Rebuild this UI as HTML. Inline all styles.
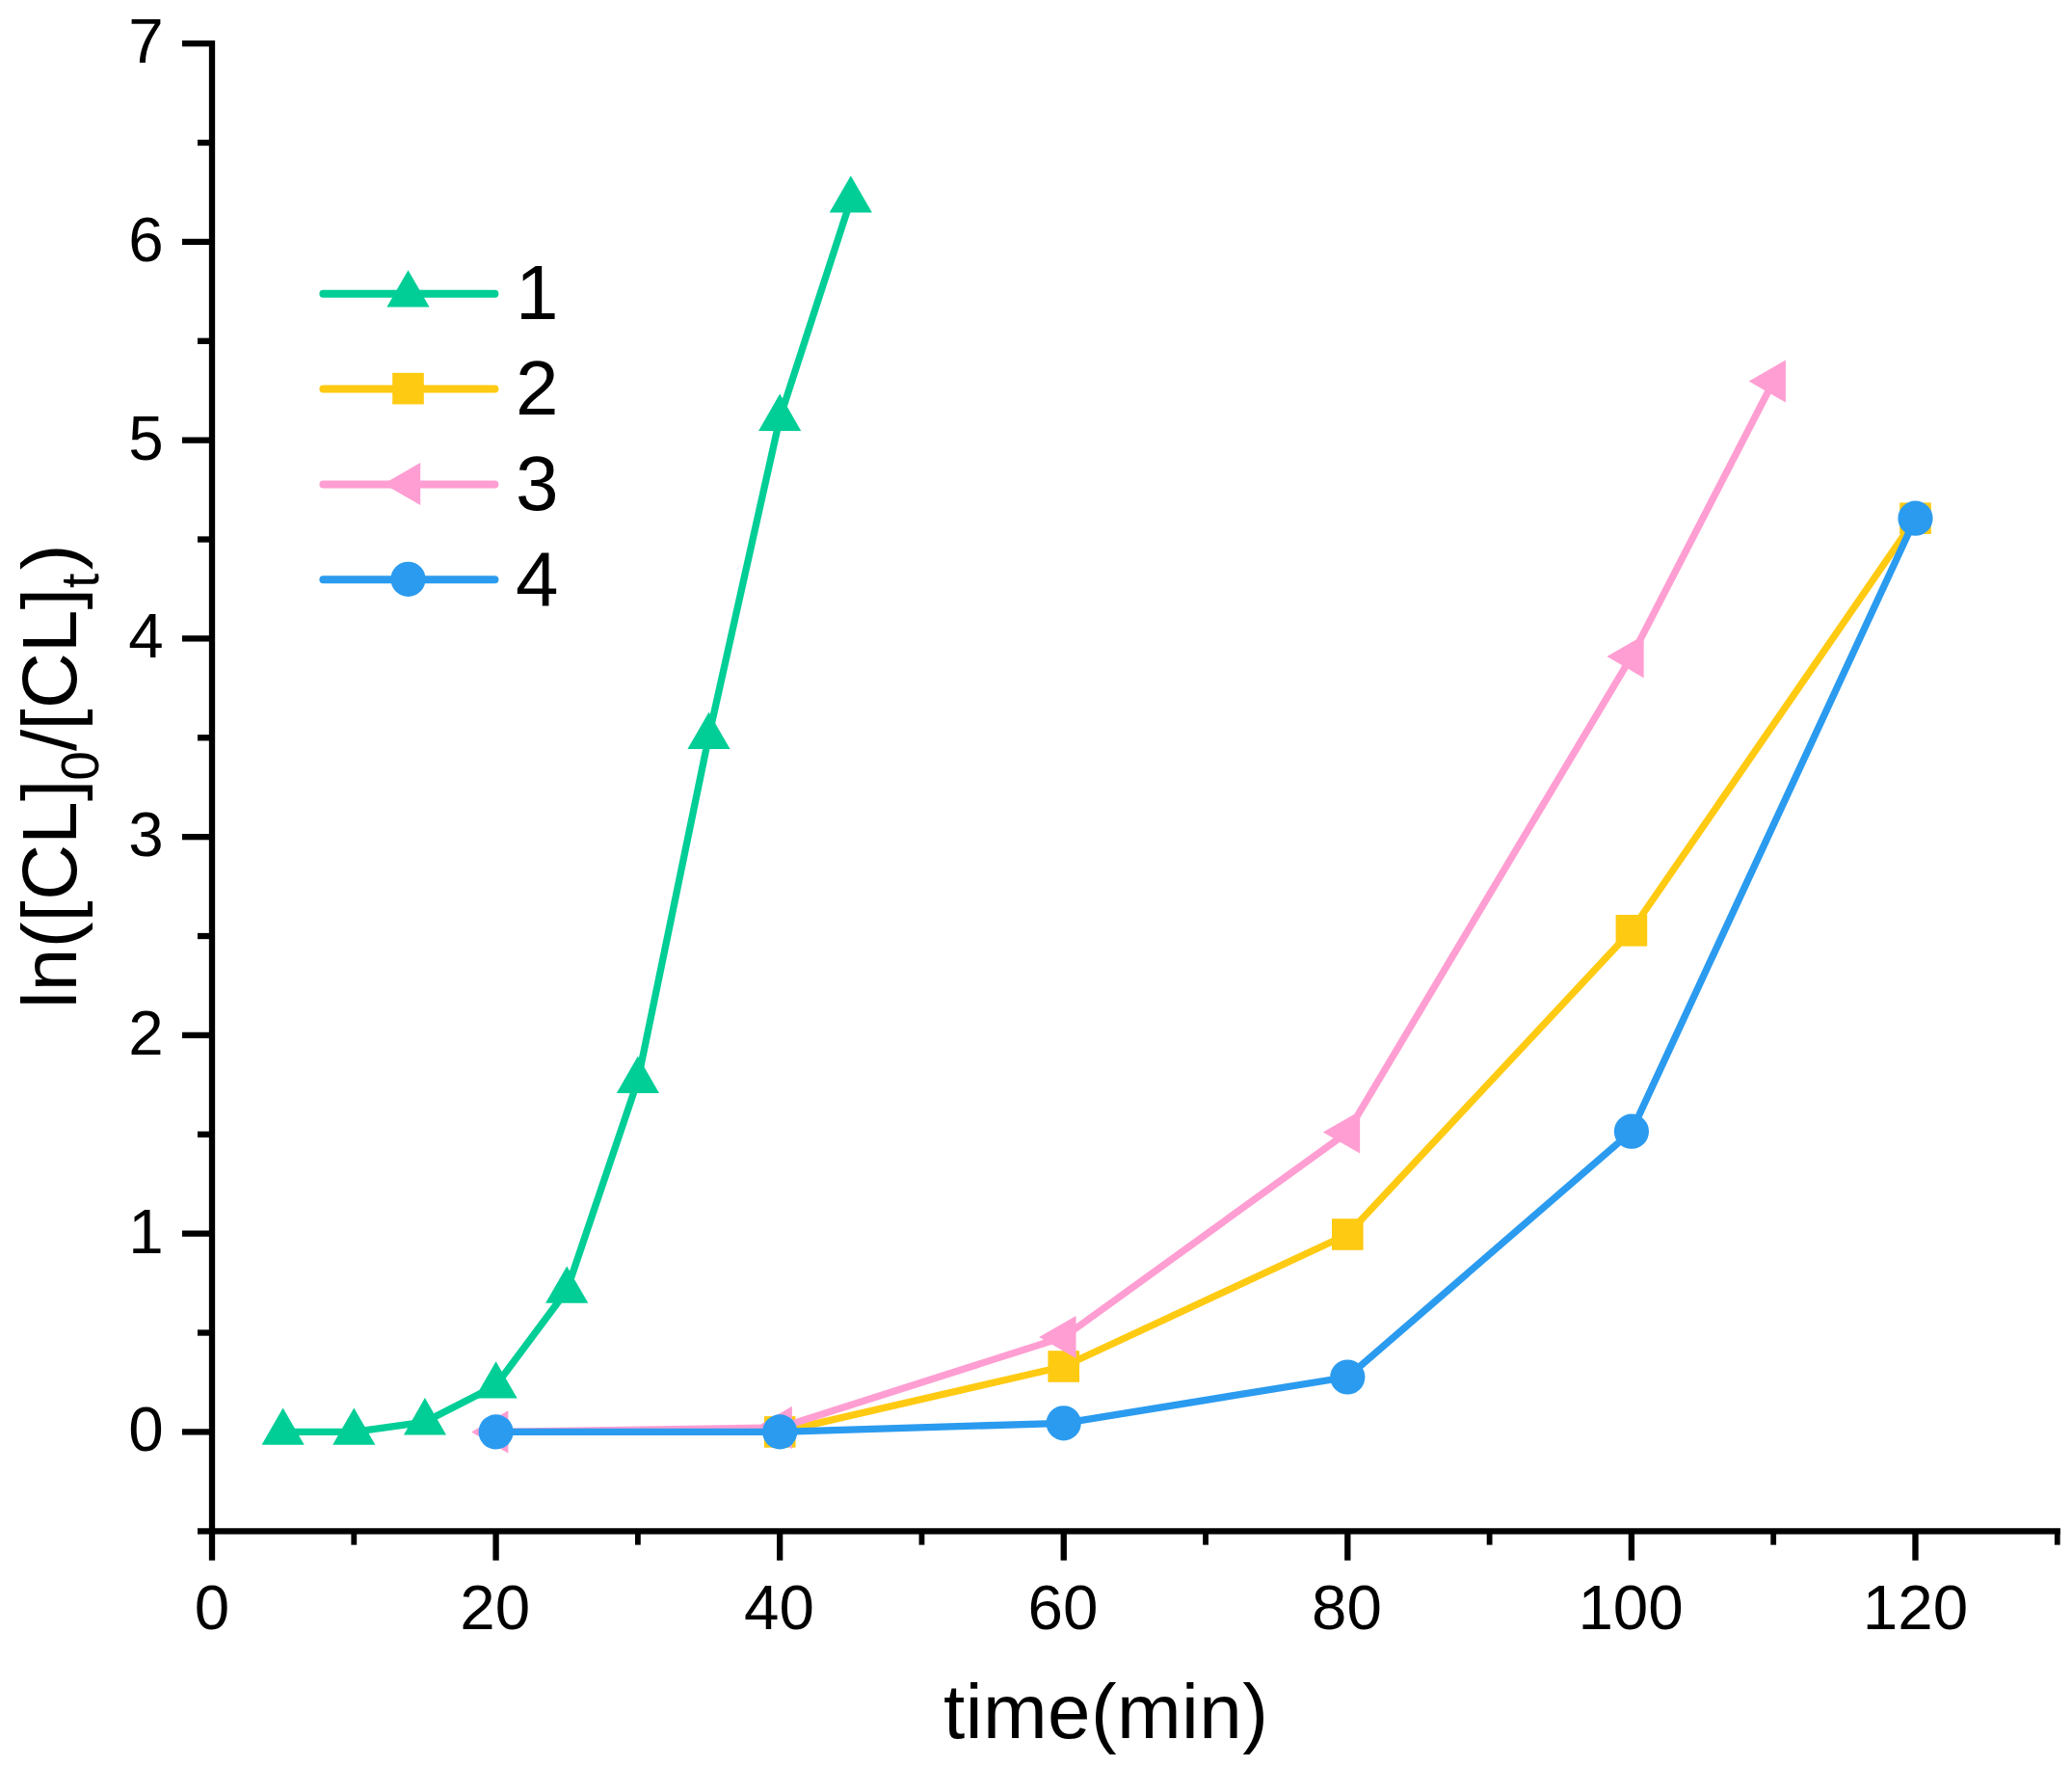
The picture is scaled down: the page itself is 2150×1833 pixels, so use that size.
<!DOCTYPE html>
<html lang="en"><head><meta charset="utf-8"><title>ln([CL]0/[CL]t) vs time</title>
<style>html,body{margin:0;padding:0;background:#fff}svg{display:block}text{font-family:"Liberation Sans",Arial,sans-serif;fill:#000}</style></head><body>
<svg width="2150" height="1833" viewBox="0 0 2150 1833">
<rect width="2150" height="1833" fill="#fff"/>
<g fill="#00CE96" stroke="none"><polyline points="293.6,1485.4 367.3,1485.4 440.9,1475.1 514.6,1437.3 588.2,1338.5 661.9,1120.6 735.5,763.8 809.2,433.6 882.8,207.3" fill="none" stroke="#00CE96" stroke-width="7.3" stroke-linejoin="round" stroke-linecap="round"/><polygon points="293.6,1460.4 315.7,1498.7 271.6,1498.7"/><polygon points="367.3,1460.4 389.4,1498.7 345.2,1498.7"/><polygon points="440.9,1450.1 463.0,1488.4 418.9,1488.4"/><polygon points="514.6,1412.3 536.7,1450.5 492.5,1450.5"/><polygon points="588.2,1313.5 610.3,1351.7 566.1,1351.7"/><polygon points="661.9,1095.6 684.0,1133.9 639.8,1133.9"/><polygon points="735.5,738.8 757.6,777.1 713.4,777.1"/><polygon points="809.2,408.6 831.2,446.9 787.1,446.9"/><polygon points="882.8,182.3 904.9,220.5 860.7,220.5"/></g>
<g fill="#FFCA12" stroke="none"><polyline points="809.2,1485.4 1103.7,1417.5 1398.3,1280.5 1692.9,965.3 1987.5,537.7" fill="none" stroke="#FFCA12" stroke-width="7.3" stroke-linejoin="round" stroke-linecap="round"/><rect x="792.9" y="1469.1" width="32.6" height="32.6"/><rect x="1087.4" y="1401.2" width="32.6" height="32.6"/><rect x="1382.0" y="1264.2" width="32.6" height="32.6"/><rect x="1676.6" y="949.0" width="32.6" height="32.6"/><rect x="1971.2" y="521.4" width="32.6" height="32.6"/></g>
<g fill="#FF9ED2" stroke="none"><polyline points="514.6,1485.4 809.2,1480.9 1103.7,1387.1 1398.3,1174.5 1692.9,681.1 1840.2,395.5" fill="none" stroke="#FF9ED2" stroke-width="7.3" stroke-linejoin="round" stroke-linecap="round"/><polygon points="489.1,1485.4 527.3,1463.3 527.3,1507.5"/><polygon points="783.7,1480.9 821.9,1458.8 821.9,1503.0"/><polygon points="1078.2,1387.1 1116.5,1365.0 1116.5,1409.1"/><polygon points="1372.8,1174.5 1411.1,1152.4 1411.1,1196.6"/><polygon points="1667.4,681.1 1705.6,659.0 1705.6,703.2"/><polygon points="1814.7,395.5 1852.9,373.5 1852.9,417.6"/></g>
<g fill="#2B9BEF" stroke="none"><polyline points="514.6,1485.4 809.2,1485.4 1103.7,1476.3 1398.3,1428.5 1692.9,1173.7 1987.5,537.7" fill="none" stroke="#2B9BEF" stroke-width="7.3" stroke-linejoin="round" stroke-linecap="round"/><circle cx="514.6" cy="1485.4" r="18.1"/><circle cx="809.2" cy="1485.4" r="18.1"/><circle cx="1103.7" cy="1476.3" r="18.1"/><circle cx="1398.3" cy="1428.5" r="18.1"/><circle cx="1692.9" cy="1173.7" r="18.1"/><circle cx="1987.5" cy="537.7" r="18.1"/></g>
<g fill="#000" shape-rendering="auto">
<rect x="216.85" y="42.00" width="6.3" height="1549.55"/>
<rect x="205" y="1585.25" width="1932.90" height="6.3"/>
<rect x="189" y="1482.25" width="31.00" height="6.3"/><rect x="189" y="1276.50" width="31.00" height="6.3"/><rect x="189" y="1070.75" width="31.00" height="6.3"/><rect x="189" y="865.00" width="31.00" height="6.3"/><rect x="189" y="659.25" width="31.00" height="6.3"/><rect x="189" y="453.50" width="31.00" height="6.3"/><rect x="189" y="247.75" width="31.00" height="6.3"/><rect x="189" y="42.00" width="31.00" height="6.3"/><rect x="205" y="1379.38" width="15.00" height="6.3"/><rect x="205" y="1173.62" width="15.00" height="6.3"/><rect x="205" y="967.88" width="15.00" height="6.3"/><rect x="205" y="762.13" width="15.00" height="6.3"/><rect x="205" y="556.38" width="15.00" height="6.3"/><rect x="205" y="350.63" width="15.00" height="6.3"/><rect x="205" y="144.88" width="15.00" height="6.3"/>
<rect x="216.85" y="1588.40" width="6.3" height="30.30"/><rect x="511.43" y="1588.40" width="6.3" height="30.30"/><rect x="806.01" y="1588.40" width="6.3" height="30.30"/><rect x="1100.59" y="1588.40" width="6.3" height="30.30"/><rect x="1395.17" y="1588.40" width="6.3" height="30.30"/><rect x="1689.75" y="1588.40" width="6.3" height="30.30"/><rect x="1984.33" y="1588.40" width="6.3" height="30.30"/><rect x="364.39" y="1588.40" width="5.8" height="14.20"/><rect x="658.97" y="1588.40" width="5.8" height="14.20"/><rect x="953.55" y="1588.40" width="5.8" height="14.20"/><rect x="1248.13" y="1588.40" width="5.8" height="14.20"/><rect x="1542.71" y="1588.40" width="5.8" height="14.20"/><rect x="1837.29" y="1588.40" width="5.8" height="14.20"/><rect x="2131.87" y="1588.40" width="5.8" height="14.20"/>
</g>
<g font-size="65.5" text-anchor="end"><text x="169.6" y="1505.2">0</text><text x="169.6" y="1299.5">1</text><text x="169.6" y="1093.7">2</text><text x="169.6" y="888.0">3</text><text x="169.6" y="682.2">4</text><text x="169.6" y="476.5">5</text><text x="169.6" y="270.7">6</text><text x="169.6" y="65.0">7</text></g>
<g font-size="65.5" text-anchor="middle"><text x="220.0" y="1690.3">0</text><text x="513.8" y="1690.3">20</text><text x="808.4" y="1690.3">40</text><text x="1102.9" y="1690.3">60</text><text x="1397.5" y="1690.3">80</text><text x="1692.1" y="1690.3">100</text><text x="1987.5" y="1690.3">120</text></g>
<text x="979" y="1802.7" font-size="80" letter-spacing="0.44">time(min)</text>
<text transform="translate(79.3,1046.2) rotate(-90)" font-size="80" letter-spacing="0.3">ln([CL]<tspan font-size="55" dy="22.3" dx="-1.3">0</tspan><tspan dy="-22.3">/</tspan><tspan dx="-1.2">[CL]</tspan><tspan font-size="55" dy="22.3" dx="-0.4">t</tspan><tspan dy="-22.3" dx="3.3">)</tspan></text>
<g fill="#00CE96"><line x1="335.4" x2="513.4" y1="304.7" y2="304.7" stroke="#00CE96" stroke-width="8" stroke-linecap="round"/><polygon points="423.5,280.3 445.6,318.6 401.4,318.6"/></g><text x="535" y="331.1" font-size="80">1</text>
<g fill="#FFCA12"><line x1="335.4" x2="513.4" y1="403.6" y2="403.6" stroke="#FFCA12" stroke-width="8" stroke-linecap="round"/><rect x="407.2" y="386.8" width="32.6" height="32.6"/></g><text x="535" y="430.0" font-size="80">2</text>
<g fill="#FF9ED2"><line x1="335.4" x2="513.4" y1="502.5" y2="502.5" stroke="#FF9ED2" stroke-width="8" stroke-linecap="round"/><polygon points="398.0,502.0 436.2,479.9 436.2,524.1"/></g><text x="535" y="528.9" font-size="80">3</text>
<g fill="#2B9BEF"><line x1="335.4" x2="513.4" y1="601.3" y2="601.3" stroke="#2B9BEF" stroke-width="8" stroke-linecap="round"/><circle cx="423.5" cy="600.8" r="18.1"/></g><text x="535" y="627.7" font-size="80">4</text>
</svg>
</body></html>
